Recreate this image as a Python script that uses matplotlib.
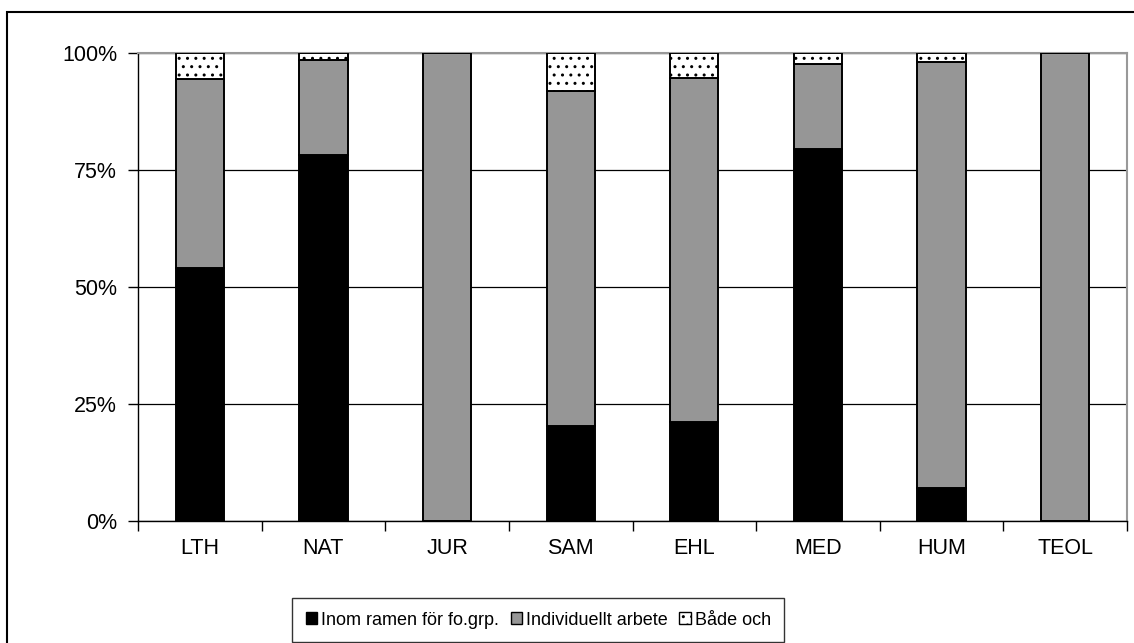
import matplotlib.pyplot as plt
import numpy as np
from matplotlib.patches import Rectangle, Patch
from matplotlib.ticker import FixedLocator, PercentFormatter

plt.rcParams['font.family'] = ['Liberation Sans', 'DejaVu Sans']
plt.rcParams['hatch.linewidth'] = 1.0
plt.rcParams['hatch.color'] = 'black'

faculties = ['LTH', 'NAT', 'JUR', 'SAM', 'EHL', 'MED', 'HUM', 'TEOL']
inom_fogrp = [54.0, 78.2, 0.0, 20.3, 21.2, 79.4, 7.1, 0.0]
individuellt = [40.5, 20.3, 100.0, 71.6, 73.5, 18.2, 91.0, 100.0]
bade_och = [5.5, 1.5, 0.0, 8.1, 5.3, 2.4, 1.9, 0.0]

fig = plt.figure(figsize=(11.34, 6.43), dpi=100)
ax = fig.add_axes([138 / 1134, 1 - 521 / 643, (1127 - 138) / 1134, (521 - 53) / 643])

x = np.arange(len(faculties))
w = 0.39
bar_kw = dict(width=w, edgecolor='black', linewidth=1.4, zorder=3)
ax.bar(x, inom_fogrp, color='black', **bar_kw)
ax.bar(x, individuellt, bottom=inom_fogrp, color='#969696', **bar_kw)
bottom2 = np.array(inom_fogrp) + np.array(individuellt)
ax.bar(x, bade_och, bottom=bottom2, color='white', hatch='..', **bar_kw)

ax.set_xlim(-0.5, len(faculties) - 0.5)
ax.set_ylim(0, 100)
ax.set_yticks([0, 25, 50, 75, 100])
ax.yaxis.set_major_formatter(PercentFormatter(decimals=0))
ax.set_xticks(x)
ax.set_xticklabels(faculties)
ax.xaxis.set_minor_locator(FixedLocator(np.arange(-0.5, len(faculties), 1)))
ax.tick_params(axis='x', which='major', length=0, pad=12, labelsize=15.5)
ax.tick_params(axis='x', which='minor', length=7, width=1, direction='out')
ax.tick_params(axis='y', length=7, width=1, direction='out', pad=8, labelsize=15.5)

ax.grid(axis='y', color='black', linewidth=0.9, zorder=0)
ax.set_axisbelow(True)
for side in ['top', 'right']:
  ax.spines[side].set_color('#999999')
  ax.spines[side].set_linewidth(1.5)
ax.spines['left'].set_linewidth(1)
ax.spines['bottom'].set_linewidth(1)

handles = [
  Patch(facecolor='black', edgecolor='black', label='Inom ramen för fo.grp.'),
  Patch(facecolor='#969696', edgecolor='black', label='Individuellt arbete'),
  Patch(facecolor='white', edgecolor='black', hatch='..', label='Både och'),
]
leg = fig.legend(handles=handles, loc='upper left', bbox_to_anchor=(292 / 1134, 1 - 598 / 643),
                 ncol=3, frameon=True, fancybox=False, fontsize=13, handlelength=0.65,
                 handleheight=0.65, handletextpad=0.2, columnspacing=0.65, borderpad=0.75,
                 borderaxespad=0)
leg.get_frame().set_edgecolor('black')
leg.get_frame().set_linewidth(1)

# outer chart frame
fig.patches.append(Rectangle((7 / 1134, -0.1), 2, 1.1 - 12 / 643, transform=fig.transFigure,
                             fill=False, edgecolor='black', linewidth=1.5, zorder=-1))

fig.savefig('out.png', dpi=100)
